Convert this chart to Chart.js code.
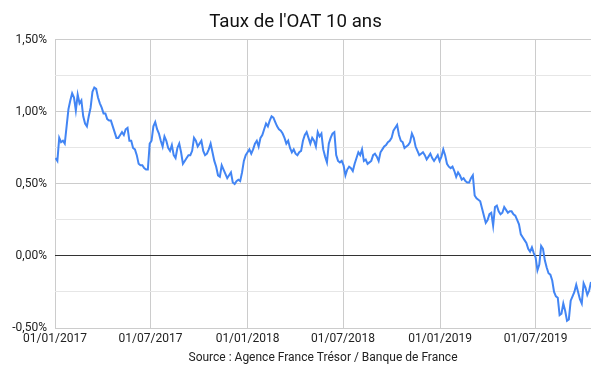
<!DOCTYPE html>
<html>
<head>
<meta charset="utf-8">
<script src="https://cdn.jsdelivr.net/npm/chart.js@4.4.1/dist/chart.umd.min.js"></script>
<style>
  html, body { margin: 0; padding: 0; background: #fff; }
  #wrap { width: 600px; height: 371px; }
</style>
</head>
<body>
<div id="wrap"><canvas id="chart"></canvas></div>
<script>
// readings every 3.5 days, starting Monday 02/01/2017
const startDate = Date.UTC(2017, 0, 2);
const stepDays = 3.5;
const rates = [
  0.68, 0.66, 0.82, 0.79, 0.80, 0.78, 0.90, 1.02, 1.08, 1.13,
  1.10, 1.01, 1.12, 1.06, 1.08, 0.97, 0.92, 0.90, 0.97, 1.03,
  1.14, 1.17, 1.16, 1.10, 1.06, 1.03, 0.99, 0.99, 0.95, 0.94,
  0.94, 0.90, 0.86, 0.82, 0.82, 0.84, 0.86, 0.84, 0.88, 0.89,
  0.80, 0.80, 0.75, 0.74, 0.70, 0.64, 0.63, 0.63, 0.61, 0.60,
  0.60, 0.78, 0.80, 0.90, 0.93, 0.88, 0.85, 0.80, 0.76, 0.83,
  0.80, 0.75, 0.73, 0.77, 0.70, 0.68, 0.75, 0.78, 0.72, 0.64,
  0.66, 0.68, 0.70, 0.70, 0.73, 0.82, 0.80, 0.76, 0.78, 0.80,
  0.73, 0.70, 0.71, 0.74, 0.78, 0.72, 0.66, 0.62, 0.56, 0.55,
  0.63, 0.60, 0.57, 0.54, 0.56, 0.58, 0.51, 0.50, 0.52, 0.53,
  0.52, 0.58, 0.66, 0.70, 0.72, 0.74, 0.71, 0.74, 0.78, 0.80,
  0.76, 0.82, 0.84, 0.88, 0.92, 0.90, 0.94, 0.97, 0.96, 0.93,
  0.90, 0.88, 0.87, 0.85, 0.82, 0.78, 0.80, 0.75, 0.72, 0.74,
  0.71, 0.70, 0.72, 0.73, 0.80, 0.84, 0.86, 0.82, 0.78, 0.82,
  0.80, 0.76, 0.86, 0.83, 0.85, 0.74, 0.69, 0.65, 0.78, 0.82,
  0.85, 0.86, 0.70, 0.66, 0.65, 0.66, 0.63, 0.56, 0.60, 0.62,
  0.61, 0.59, 0.64, 0.68, 0.72, 0.70, 0.74, 0.66, 0.67, 0.64,
  0.65, 0.66, 0.70, 0.71, 0.69, 0.66, 0.72, 0.74, 0.76, 0.77,
  0.79, 0.80, 0.82, 0.87, 0.89, 0.91, 0.84, 0.80, 0.79, 0.75,
  0.76, 0.77, 0.79, 0.85, 0.82, 0.76, 0.73, 0.70, 0.71, 0.72,
  0.70, 0.67, 0.69, 0.71, 0.68, 0.66, 0.68, 0.70, 0.66, 0.69,
  0.74, 0.70, 0.64, 0.62, 0.61, 0.62, 0.59, 0.55, 0.58, 0.56,
  0.53, 0.54, 0.52, 0.51, 0.51, 0.54, 0.56, 0.42, 0.40, 0.39,
  0.38, 0.33, 0.28, 0.23, 0.25, 0.29, 0.30, 0.21, 0.34, 0.35,
  0.31, 0.29, 0.30, 0.34, 0.32, 0.30, 0.31, 0.31, 0.29, 0.28,
  0.25, 0.22, 0.15, 0.13, 0.11, 0.09, 0.05, 0.03, 0.06, 0.02,
  -0.01, -0.10, -0.06, 0.07, 0.05, -0.03, -0.08, -0.12, -0.13, -0.17,
  -0.25, -0.28, -0.29, -0.41, -0.40, -0.33, -0.38, -0.45, -0.44, -0.31,
  -0.28, -0.25, -0.20, -0.25, -0.30, -0.33, -0.19, -0.22, -0.27, -0.24,
  -0.18
];
const tickDates = [
  Date.UTC(2017, 0, 1), Date.UTC(2017, 6, 1),
  Date.UTC(2018, 0, 1), Date.UTC(2018, 6, 1),
  Date.UTC(2019, 0, 1), Date.UTC(2019, 6, 1)
];
const yMin = -0.5, yMax = 1.5;

const DAY = 86400000;
const points = rates.map((v, i) => ({ x: startDate + i * stepDays * DAY, y: v }));

function fmtDate(t) {
  const d = new Date(t);
  const dd = String(d.getUTCDate()).padStart(2, '0');
  const mm = String(d.getUTCMonth() + 1).padStart(2, '0');
  return dd + '/' + mm + '/' + d.getUTCFullYear();
}

function fmtRate(v) {
  return v.toFixed(2).replace('.', ',') + '%';
}

Chart.defaults.font.family = 'Roboto';
Chart.defaults.color = '#222';

new Chart(document.getElementById('chart'), {
  type: 'line',
  data: {
    datasets: [{
      data: points,
      borderColor: '#4285f4',
      borderWidth: 2,
      pointRadius: 0,
      tension: 0,
      fill: false
    }]
  },
  options: {
    responsive: true,
    maintainAspectRatio: false,
    animation: false,
    layout: { padding: { left: 0, right: 9, top: 0, bottom: 3 } },
    plugins: {
      legend: { display: false },
      tooltip: { enabled: false },
      title: {
        display: true,
        text: "Taux de l'OAT 10 ans",
        color: '#111',
        font: { size: 18.7, weight: 'normal' },
        padding: { top: 11.5, bottom: 6 }
      }
    },
    scales: {
      x: {
        type: 'linear',
        min: tickDates[0],
        max: points[points.length - 1].x,
        afterBuildTicks: scale => { scale.ticks = tickDates.map(t => ({ value: t })); },
        afterFit: scale => { scale.height = 40; },
        ticks: {
          autoSkip: false,
          maxRotation: 0,
          padding: 4,
          font: { size: 12 },
          callback: v => fmtDate(v)
        },
        grid: { color: '#cccccc', drawTicks: false },
        border: { display: false },
        title: {
          display: true,
          text: 'Source : Agence France Trésor / Banque de France',
          font: { size: 12 },
          padding: { top: 0, bottom: 3 }
        }
      },
      y: {
        min: yMin,
        max: yMax,
        afterFit: scale => { scale.width = 55; },
        ticks: {
          stepSize: 0.25,
          padding: 8,
          font: { size: 12 },
          callback: v => (Math.abs(v * 2 - Math.round(v * 2)) < 1e-6 ? fmtRate(v) : '')
        },
        grid: {
          drawTicks: false,
          color: ctx => {
            const v = ctx.tick.value;
            if (Math.abs(v) < 1e-6) return '#333333';
            return Math.abs(v * 2 - Math.round(v * 2)) < 1e-6 ? '#cccccc' : '#e6e6e6';
          }
        },
        border: { display: false }
      }
    }
  }
});
</script>
</body>
</html>
